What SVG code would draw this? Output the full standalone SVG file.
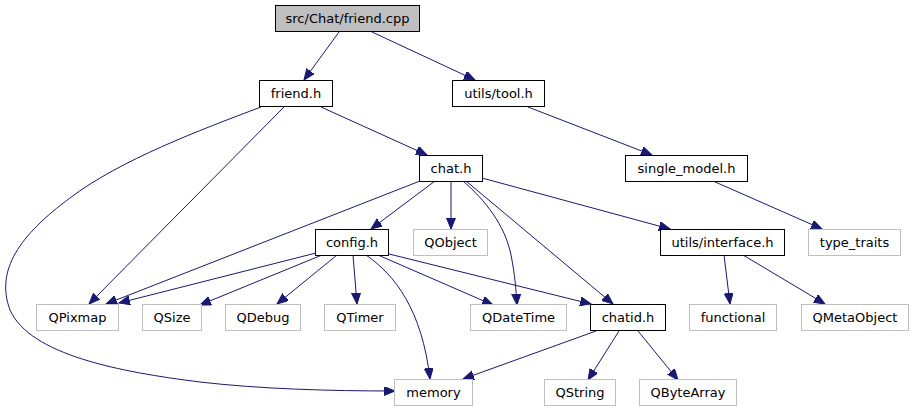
<svg xmlns="http://www.w3.org/2000/svg" width="913" height="411" viewBox="0 0 913 411">
<style>
.n rect{fill:#fff;stroke:#000;stroke-width:1}
.g rect{fill:#fff;stroke:#bfbfbf;stroke-width:1}
.r rect{fill:#bfbfbf;stroke:#000;stroke-width:1}
text{font-family:"DejaVu Sans","Liberation Sans",sans-serif;font-size:13px;text-anchor:middle;fill:#000}
.e path{fill:none;stroke:#191970;stroke-width:1;marker-end:url(#ah)}
</style>
<defs>
<marker id="ah" markerWidth="13" markerHeight="10" refX="11" refY="4.5" orient="auto" markerUnits="userSpaceOnUse">
<path d="M0,0 L11,4.5 L0,9 z" fill="#191970" stroke="#191970" stroke-width="1"/>
</marker>
</defs>
<rect width="913" height="411" fill="#fff"/>
<g class="e" id="edges">
<path d="M339,32 L304,80"/>
<path d="M372,32 L475,80"/>
<path d="M321,107 L427,155"/>
<path d="M284,107 L89,304"/>
<path d="M261,107 C200,130 120,160 70,198 C20,235 -5,270 10,310 C30,355 120,372 200,382 C260,389 330,391 395,391"/>
<path d="M420,181 L106,304"/>
<path d="M435,181 L371,229"/>
<path d="M451,181 L451,229"/>
<path d="M463,181 C485,200 505,225 511,255 C515,275 516,290 517,305"/>
<path d="M466,181 L613,304"/>
<path d="M482,178 L670,229"/>
<path d="M528,107 L652,155"/>
<path d="M713,181 L822,229"/>
<path d="M316,253 L119,303"/>
<path d="M322,255 L200,305"/>
<path d="M337,255 L277,304"/>
<path d="M353,255 L357,304"/>
<path d="M366,255 C395,275 422,310 430,379"/>
<path d="M378,255 L493,305"/>
<path d="M389,254 L591,304"/>
<path d="M596,331 L463,379"/>
<path d="M619,331 L588,380"/>
<path d="M638,331 L678,380"/>
<path d="M724,255 L730,304"/>
<path d="M743,255 L825,304"/>
</g>
<g id="node-friend-cpp" class="r"><rect x="275.5" y="5.5" width="144" height="26"/><text x="347.5" y="23">src/Chat/friend.cpp</text></g>
<g id="node-friend-h" class="n"><rect x="259.5" y="80.5" width="73" height="26"/><text x="296" y="98">friend.h</text></g>
<g id="node-tool-h" class="n"><rect x="452.5" y="80.5" width="92" height="26"/><text x="498.5" y="98">utils/tool.h</text></g>
<g id="node-chat-h" class="n"><rect x="419.5" y="155.5" width="63" height="26"/><text x="451" y="173">chat.h</text></g>
<g id="node-single-model-h" class="n"><rect x="625.5" y="155.5" width="122" height="26"/><text x="686.5" y="173">single_model.h</text></g>
<g id="node-config-h" class="n"><rect x="315.5" y="229.5" width="73" height="26"/><text x="352" y="247">config.h</text></g>
<g id="node-QObject" class="g"><rect x="413.5" y="229.5" width="74" height="26"/><text x="450.5" y="247">QObject</text></g>
<g id="node-interface-h" class="n"><rect x="660.5" y="229.5" width="124" height="26"/><text x="722.5" y="247">utils/interface.h</text></g>
<g id="node-type-traits" class="g"><rect x="808.5" y="229.5" width="92" height="26"/><text x="854.5" y="247">type_traits</text></g>
<g id="node-QPixmap" class="g"><rect x="36.5" y="304.5" width="82" height="26"/><text x="77.5" y="322">QPixmap</text></g>
<g id="node-QSize" class="g"><rect x="142.5" y="304.5" width="59" height="26"/><text x="172" y="322">QSize</text></g>
<g id="node-QDebug" class="g"><rect x="225.5" y="304.5" width="75" height="26"/><text x="263" y="322">QDebug</text></g>
<g id="node-QTimer" class="g"><rect x="324.5" y="304.5" width="71" height="26"/><text x="360" y="322">QTimer</text></g>
<g id="node-QDateTime" class="g"><rect x="470.5" y="304.5" width="96" height="26"/><text x="518.5" y="322">QDateTime</text></g>
<g id="node-chatid-h" class="n"><rect x="590.5" y="304.5" width="75" height="26"/><text x="628" y="322">chatid.h</text></g>
<g id="node-functional" class="g"><rect x="689.5" y="304.5" width="87" height="26"/><text x="733" y="322">functional</text></g>
<g id="node-QMetaObject" class="g"><rect x="801.5" y="304.5" width="107" height="26"/><text x="855" y="322">QMetaObject</text></g>
<g id="node-memory" class="g"><rect x="394.5" y="379.5" width="78" height="26"/><text x="433.5" y="397">memory</text></g>
<g id="node-QString" class="g"><rect x="544.5" y="379.5" width="71" height="26"/><text x="580" y="397">QString</text></g>
<g id="node-QByteArray" class="g"><rect x="639.5" y="379.5" width="97" height="26"/><text x="688" y="397">QByteArray</text></g>
</svg>
